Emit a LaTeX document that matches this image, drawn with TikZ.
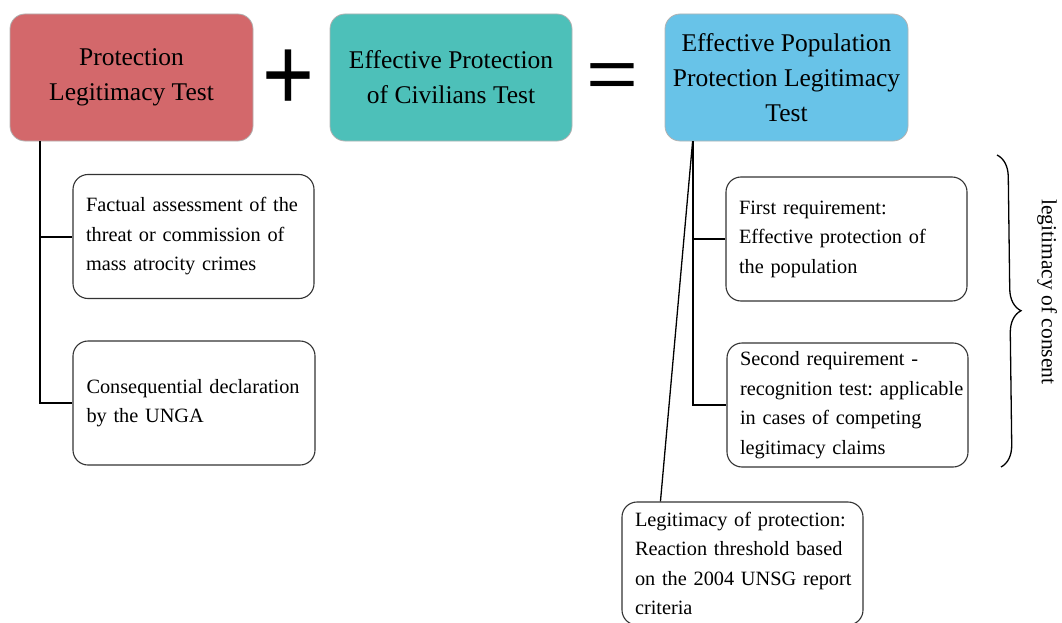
\documentclass[tikz,border=0pt]{standalone}
\usepackage{fontspec}
\setmainfont{Liberation Serif}
\newfontfamily\signsans{Liberation Sans}
\usepackage{tikz}
\usetikzlibrary{decorations.pathreplacing}
\frenchspacing

\definecolor{pltred}{RGB}{211,104,107}
\definecolor{epcteal}{RGB}{77,192,185}
\definecolor{epplblue}{RGB}{104,195,232}

\newcommand{\headfont}{\fontsize{25.5}{35}\selectfont}
\newcommand{\itemfont}{\fontsize{20.3}{29.5}\selectfont}

\tikzset{
  headbox/.style={rounded corners=15pt, draw=black!30, line width=0.8pt,
    minimum width=243pt, minimum height=127pt, inner sep=0pt,
    align=center, font=\headfont},
  itembox/.style={rounded corners=15pt, draw=black!80, line width=1.1pt,
    minimum width=241pt, minimum height=124pt, inner xsep=13pt,
    text width=215pt, align=left, font=\itemfont},
  branch/.style={line width=2pt},
  signtext/.style={font=\signsans\fontsize{89}{89}\selectfont, inner sep=0pt}
}

\begin{document}
\begin{tikzpicture}[x=1pt, y=-1pt]
    \useasboundingbox (0, 0) rectangle (1062, 623);

    \node[headbox, fill=pltred] (plt) at (131.5, 77.5) {Protection\\Legitimacy Test};
    \node[headbox, fill=epcteal, minimum width=242pt] (epc) at (451, 77.5) {Effective Protection\\of Civilians Test};
    \node[headbox, fill=epplblue] (eppl) at (786.5, 77.5) {Effective Population\\Protection Legitimacy\\Test};

    \node[signtext] (plus) at (288, 80) {\scalebox{1}[1.18]{+}};
    \node[signtext] (equals) at (612, 81) {\scalebox{1}[0.8]{=}};

    \node[itembox] (fact) at (193.5, 236.5) {Factual assessment of the\\threat or commission of\\mass atrocity crimes};
    \node[itembox, minimum width=242pt] (decl) at (194, 403) {\mbox{Consequential declaration}\\by the UNGA};

    \node[itembox] (first) at (846.5, 239) {First requirement:\\Effective protection of\\the population};
    \node[itembox] (second) at (847.5, 405) {Second requirement -\\\mbox{recognition test: applicable}\\in cases of competing\\legitimacy claims};

    \node[itembox, minimum height=123pt] (legit) at (742.5, 563.5) {\mbox{Legitimacy of protection:}\\Reaction threshold based\\\mbox{on the 2004 UNSG report}\\criteria};

    \coordinate (ltop) at ([xshift=30pt]plt.south west);
    \draw[branch] (ltop) |- (decl.west);
    \draw[branch] (ltop |- fact.west) -- (fact.west);

    \coordinate (rtop) at ([xshift=28pt]eppl.south west);
    \draw[branch] (rtop) |- (second.west);
    \draw[branch] (rtop |- first.west) -- (first.west);
    \draw[line width=1.3pt] (rtop) -- ([xshift=39pt]legit.north west);

    \coordinate (bracetop) at (997, 155);
    \coordinate (bracebot) at (1001, 467);
    \draw[decorate, decoration={brace, amplitude=22pt}, line width=1.3pt] (bracetop) -- (bracebot);

    \node[rotate=-90, font=\fontsize{21.5}{24}\selectfont] (consent) at (1047, 292) {legitimacy of consent};
\end{tikzpicture}
\end{document}
